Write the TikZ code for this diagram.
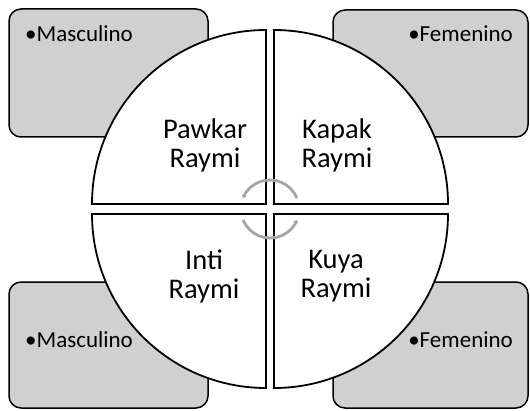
\documentclass[tikz,border=0pt]{standalone}
\usepackage{fontspec}
\setmainfont{Carlito}
\usetikzlibrary{arrows.meta}
\definecolor{boxgray}{RGB}{208,208,208}
\definecolor{arrgray}{RGB}{166,166,166}
\tikzset{
  sidebox/.style={draw=black, line width=1.5pt, fill=boxgray, rounded corners=12pt, inner sep=0pt},
  quad/.style={draw=black, line width=1.8pt, fill=white, line join=miter},
  quadtext/.style={align=center, font=\fontsize{28.5}{29}\selectfont, inner sep=0pt},
  boxtext/.style={font=\fontsize{23}{27}\selectfont, inner sep=0pt},
  cyc/.style={draw=arrgray, line width=2.8pt, -{Triangle[length=3pt,width=5pt]}}
}
\begin{document}
\begin{tikzpicture}[x=1pt,y=1pt]
\useasboundingbox (0,0) rectangle (530,410);
% side boxes
\node[sidebox, minimum width=199pt, minimum height=128pt] (tlbox) at (108.5,337) {};
\node[sidebox, minimum width=195pt, minimum height=127pt] (trbox) at (430.5,336.5) {};
\node[sidebox, minimum width=199pt, minimum height=126pt] (blbox) at (108.5,65) {};
\node[sidebox, minimum width=195pt, minimum height=126pt] (brbox) at (430.5,65) {};
\node[boxtext, anchor=base west] (tltext) at (25,368) {•Masculino};
\node[boxtext, anchor=base east] (trtext) at (513,368) {•Femenino};
\node[boxtext, anchor=base west] (bltext) at (25,63) {•Masculino};
\node[boxtext, anchor=base east] (brtext) at (513,63) {•Femenino};
% quadrants
\draw[quad] (266,206) -- (92,206) arc[start angle=180, end angle=90, radius=174pt] -- cycle;
\draw[quad] (274,206) -- (274,380) arc[start angle=90, end angle=0, radius=174pt] -- cycle;
\draw[quad] (266,196) -- (92,196) arc[start angle=180, end angle=270, radius=174pt] -- cycle;
\draw[quad] (274,196) -- (448,196) arc[start angle=0, end angle=-90, radius=174pt] -- cycle;
\node[quadtext] (pawkar) at (205,265) {Pawkar\\Raymi};
\node[quadtext] (kapak) at (337,265) {Kapak\\Raymi};
\node[quadtext] (inti) at (204,134) {Inti\\Raymi};
\node[quadtext] (kuya) at (336,134) {Kuya\\Raymi};
% cycle arrows
\coordinate (c) at (270,201);
\draw[cyc] ([shift={(22:29pt)}]c) arc[start angle=22, end angle=158, radius=29pt];
\draw[cyc] ([shift={(202:29pt)}]c) arc[start angle=202, end angle=338, radius=29pt];
\end{tikzpicture}
\end{document}
